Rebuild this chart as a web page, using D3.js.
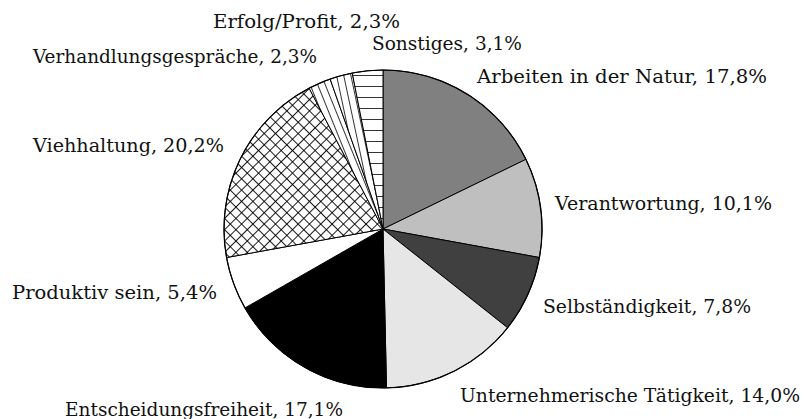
<!DOCTYPE html>
<html>
<head>
<meta charset="utf-8">
<script src="https://cdn.jsdelivr.net/npm/d3@7"></script>
<style>
  html, body { margin: 0; padding: 0; background: #fff; }
  svg { display: block; }
</style>
</head>
<body>
<svg id="chart" width="804" height="419"></svg>
<script>
// Data
const categories = [
  "Arbeiten in der Natur", "Verantwortung", "Selbständigkeit",
  "Unternehmerische Tätigkeit", "Entscheidungsfreiheit", "Produktiv sein",
  "Viehhaltung", "Verhandlungsgespräche", "Erfolg/Profit", "Sonstiges"
];
const values = [17.8, 10.1, 7.8, 14.0, 17.1, 5.4, 20.2, 2.3, 2.3, 3.1];
const valueLabels = ["17,8%", "10,1%", "7,8%", "14,0%", "17,1%", "5,4%", "20,2%", "2,3%", "2,3%", "3,1%"];

// Styling (not data)
const fills = ["#808080", "#bfbfbf", "#404040", "#e6e6e6", "#000000", "#ffffff",
               "url(#cross)", "url(#hatchA)", "url(#hatchB)", "url(#hlines)"];
// label layout: [left x, baseline y, width]
const labelPos = [
  [477, 83, 290], [555, 210, 217], [543, 313, 208], [460, 402, 340],
  [65, 416, 278], [12, 299, 205], [33, 152, 191], [33, 63, 284],
  [213, 28, 187], [372, 50, 150]
];

const svg = d3.select("#chart");
const defs = svg.append("defs");

// crosshatch
const cross = defs.append("pattern").attr("id", "cross")
  .attr("patternUnits", "userSpaceOnUse").attr("width", 8).attr("height", 8)
  .attr("patternTransform", "rotate(45)");
cross.append("rect").attr("width", 8).attr("height", 8).attr("fill", "#fff");
cross.append("line").attr("x1", 0).attr("y1", -1).attr("x2", 0).attr("y2", 9).attr("stroke", "#000").attr("stroke-width", 1.8);
cross.append("line").attr("x1", -1).attr("y1", 0).attr("x2", 9).attr("y2", 0).attr("stroke", "#000").attr("stroke-width", 1.8);

function linePattern(id, spacing, angle) {
  const p = defs.append("pattern").attr("id", id)
    .attr("patternUnits", "userSpaceOnUse").attr("width", spacing).attr("height", spacing)
    .attr("patternTransform", `rotate(${angle})`);
  p.append("rect").attr("width", spacing).attr("height", spacing).attr("fill", "#fff");
  p.append("line").attr("x1", 0).attr("y1", -1).attr("x2", 0).attr("y2", spacing + 1)
    .attr("stroke", "#000").attr("stroke-width", 1.6);
}
linePattern("hatchA", 7, -22);
linePattern("hatchB", 7, -12);
linePattern("hlines", 11, 90);

const cx = 383, cy = 229, r = 159;
const g = svg.append("g").attr("transform", `translate(${cx},${cy})`);

const pie = d3.pie().sort(null).value(d => d)(values);
const arc = d3.arc().innerRadius(0).outerRadius(r);

g.selectAll("path.slice").data(pie).join("path")
  .attr("class", "slice")
  .attr("d", arc)
  .attr("fill", (d, i) => fills[i])
  .attr("stroke", "#000")
  .attr("stroke-width", 1)
  .attr("stroke-linejoin", "round");

g.append("circle").attr("r", r).attr("fill", "none").attr("stroke", "#000").attr("stroke-width", 1.2);

svg.selectAll("text.lbl").data(categories).join("text")
  .attr("class", "lbl")
  .attr("x", (d, i) => labelPos[i][0])
  .attr("y", (d, i) => labelPos[i][1])
  .attr("font-family", "'DejaVu Serif', serif")
  .attr("font-size", 18)
  .attr("fill", "#111")
  .attr("textLength", (d, i) => labelPos[i][2])
  .attr("lengthAdjust", "spacingAndGlyphs")
  .text((d, i) => `${d}, ${valueLabels[i]}`);
</script>
</body>
</html>
